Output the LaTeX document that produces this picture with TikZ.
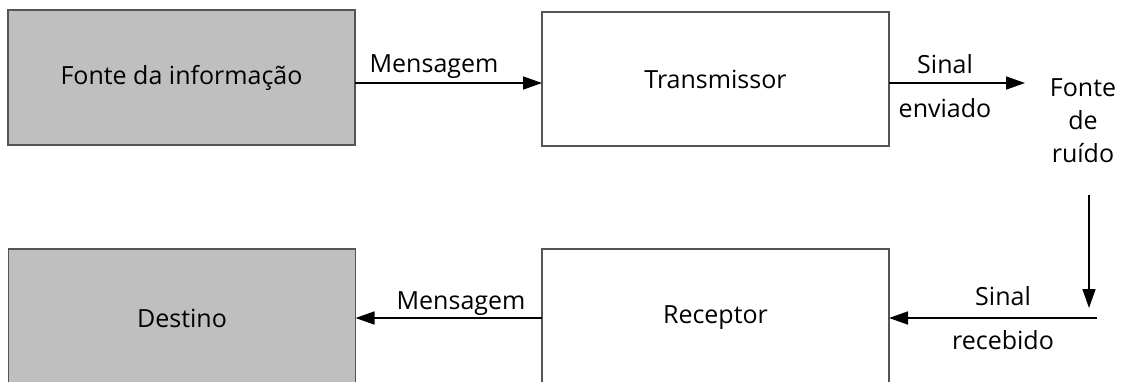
\documentclass[tikz,border=0pt]{standalone}
\usepackage{fontspec}
\setmainfont{Open Sans}
\usetikzlibrary{arrows.meta}
\definecolor{boxgray}{HTML}{BFBFBF}
\definecolor{edgegray}{HTML}{555555}
\tikzset{
  blockbox/.style={draw=edgegray, line width=1.2pt, minimum width=347pt, inner sep=0pt, outer sep=0pt},
  graybox/.style={blockbox, fill=boxgray},
  whitebox/.style={blockbox, fill=white},
  lbl/.style={inner sep=0pt, anchor=base},
  arr/.style={draw=black, line width=1.6pt, -{Triangle[length=19pt, width=13pt]}},
  plain/.style={draw=black, line width=1.6pt}
}
\begin{document}
\begin{tikzpicture}[x=1pt, y=-1pt, font=\fontsize{25}{33}\selectfont]
\useasboundingbox (0,0) rectangle (1122,381);
% boxes
\node[graybox, minimum height=135pt] (src) at (181.5,77.5) {Fonte da informação};
\node[whitebox, minimum height=134pt] (tx) at (715.5,79) {Transmissor};
\node[graybox, minimum height=138pt] (dst) at (182,318) {Destino};
\node[whitebox, minimum height=138pt] (rx) at (715.5,318) {Receptor};
% noise source
\node[align=center, inner sep=0pt, anchor=base] (noise) at (1083,162) {Fonte\\de\\ruído};
\coordinate (nin) at (1025,83);
\coordinate (ntop) at (1089,195);
\coordinate (nbot) at (1089,308);
\coordinate (nout) at (1097,318);
% connectors
\draw[arr] (src.east |- 0,83) -- (tx.west |- 0,83);
\draw[arr] (tx.east |- 0,83) -- (nin);
\draw[arr] (ntop) -- (nbot);
\draw[arr] (nout) -- (rx.east |- nout);
\draw[arr] (rx.west |- 0,318) -- (dst.east |- 0,318);
% labels
\node[lbl] (m1) at (434,72) {Mensagem};
\node[lbl] (s1) at (945,73) {Sinal};
\node[lbl] (e1) at (945,117) {enviado};
\node[lbl] (m2) at (461,309) {Mensagem};
\node[lbl] (s2) at (1003,305) {Sinal};
\node[lbl] (r2) at (1003,349) {recebido};
\end{tikzpicture}
\end{document}
